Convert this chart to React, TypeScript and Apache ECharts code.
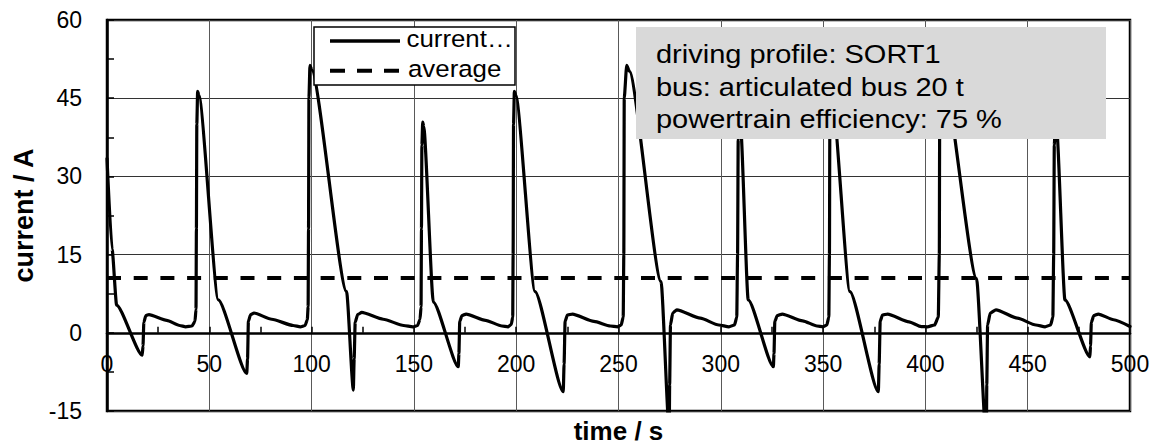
import React, { useEffect, useRef } from "react";
import * as echarts from "echarts";

const timeS: number[] = [
  0, 2.5, 4.7, 17.2, 17.6, 18.0, 19.0, 20.5, 29.2, 35.5, 38.5, 41.5, 43.0, 43.5, 43.7, 43.9, 44.3, 44.9, 54.4,
  68.3, 68.7, 69.1, 70.2, 71.8, 80.5, 91, 94.5, 96.8, 97.9, 98.3, 98.5, 98.7, 99.2, 100.0, 117.1,
  120.4, 120.8, 121.3, 122.5, 124.5, 135, 145, 149.5, 151.8, 153.0, 153.5, 153.7, 153.9, 154.3, 154.8, 159.5,
  171.7, 172.0, 172.4, 173.5, 175.5, 185, 193, 196, 197.6, 198.3, 198.5, 198.7, 199.1, 199.8, 209.2,
  223.0, 223.4, 223.9, 225, 227.5, 238, 246, 249.5, 251.3, 252.3, 252.6, 252.8, 254.0, 255.3, 270.8,
  274.8, 275.0, 275.4, 276.5, 278.5, 290, 299, 304, 306.7, 307.8, 308.2, 308.5, 309.0, 309.6, 313.4,
  325.7, 326.0, 326.4, 327.6, 330, 340, 347, 350, 351.8, 352.8, 353.1, 353.3, 353.7, 354.4, 363.1,
  377.0, 377.4, 377.9, 379, 381.5, 392, 398, 401, 404.5, 406.3, 406.8, 407.0, 407.5, 408.5, 425,
  429.8, 430.0, 430.4, 431.7, 434.5, 445, 454, 458.5, 461.2, 462.3, 462.7, 463.0, 463.5, 464.1, 468.2,
  480.4, 480.7, 481.1, 482.3, 484.5, 492, 500,
];
const currentA: number[] = [
  33.4, 16, 5.3, -4.3, -2.5, 2.0, 3.3, 3.5, 2.4, 1.4, 1.15, 1.3, 2.2, 4.5, 20, 40, 46.3, 45.6, 6.3,
  -7.8, -5, 2.2, 3.5, 3.8, 2.6, 1.4, 1.15, 1.4, 2.5, 5, 20, 45, 51.3, 50.5, 7.9,
  -11.0, -5, 2.0, 3.5, 3.9, 2.6, 1.4, 1.15, 1.4, 2.6, 5, 20, 36, 40.4, 39.6, 5.9,
  -6.5, -4, 2.2, 3.3, 3.6, 2.4, 1.3, 1.15, 1.6, 3, 15, 40, 46.3, 45.6, 7.9,
  -11.3, -6, 2.2, 3.4, 3.6, 2.2, 1.3, 1.15, 1.5, 3, 15, 45, 51.3, 50.2, 9.8,
  -19, -10, 1.5, 3.8, 4.4, 2.8, 1.5, 1.15, 1.5, 3, 15, 37, 41, 40.2, 6.3,
  -6.5, -4, 2.2, 3.3, 3.6, 2.3, 1.3, 1.15, 1.5, 3, 15, 40, 46, 45.4, 7.9,
  -11.3, -6, 2.2, 3.4, 3.6, 2.1, 1.2, 1.15, 1.5, 3, 15, 45, 51, 50.3, 10.4,
  -21, -10, 1.5, 3.8, 4.4, 2.8, 1.5, 1.15, 1.5, 3, 15, 36, 40.3, 39.5, 6.3,
  -4.6, -2.5, 2.0, 3.3, 3.6, 2.5, 1.2,
];
const averageA = 10.5;
const averageSpan: number[] = [0, 500];

const seriesNames: string[] = ["current…", "average"];
const infoLines: string[] = [
  "driving profile: SORT1",
  "bus: articulated bus 20 t",
  "powertrain efficiency: 75 %",
];
const xTitle = "time / s";
const yTitle = "current / A";

const FONT = "'Liberation Sans', Arial, Helvetica, sans-serif";

export default function App() {
  const ref = useRef<HTMLDivElement>(null);

  useEffect(() => {
    if (!ref.current) return;
    const chart = echarts.init(ref.current, undefined, { renderer: "svg" });

    const currentData = timeS.map((t, i) => [t, currentA[i]]);
    const averageData = averageSpan.map((t) => [t, averageA]);

    const legendText = (text: string, x: number, y: number) => ({
      type: "text",
      x,
      y,
      scaleX: 1.1,
      z: 101,
      style: {
        text,
        fontSize: 23.5,
        fontFamily: FONT,
        fill: "#000",
        align: "left",
        verticalAlign: "middle",
      },
    });

    const infoText = (text: string, y: number) => ({
      type: "text",
      x: 656,
      y,
      scaleX: 1.16,
      z: 101,
      style: {
        text,
        fontSize: 25,
        fontFamily: FONT,
        fill: "#000",
        align: "left",
        verticalAlign: "middle",
      },
    });

    chart.setOption({
      animation: false,
      backgroundColor: "#fff",
      grid: {
        left: 107,
        top: 20,
        width: 1023,
        height: 391,
        outerBoundsMode: "none",
        containLabel: false,
        show: true,
        borderColor: "#000",
        borderWidth: 2.5,
        backgroundColor: "transparent",
      },
      xAxis: {
        type: "value",
        min: 0,
        max: 500,
        interval: 50,
        name: xTitle,
        nameLocation: "middle",
        nameGap: 20,
        nameTextStyle: {
          fontSize: 26,
          lineHeight: 26,
          fontWeight: "bold",
          fontFamily: FONT,
          color: "#000",
          verticalAlign: "middle",
        },
        axisLine: { show: true, onZero: true, lineStyle: { color: "#000", width: 2.5 } },
        axisTick: { show: true, inside: true, length: 6, lineStyle: { color: "#000", width: 1.5 } },
        minorTick: { show: true, splitNumber: 2, length: 6, lineStyle: { color: "#000", width: 1.5 } },
        splitLine: { show: true, lineStyle: { color: "#595959", width: 1 } },
        axisLabel: { fontSize: 23, fontFamily: FONT, color: "#000", margin: -59 },
      },
      yAxis: {
        type: "value",
        min: -15,
        max: 60,
        interval: 15,
        name: yTitle,
        nameLocation: "middle",
        nameRotate: 90,
        nameGap: 82,
        nameTextStyle: {
          fontSize: 27,
          fontWeight: "bold",
          fontFamily: FONT,
          color: "#000",
          verticalAlign: "middle",
        },
        axisLine: { show: true, lineStyle: { color: "#000", width: 2.5 } },
        axisTick: { show: true, inside: true, length: 7, lineStyle: { color: "#000", width: 1.5 } },
        minorTick: { show: true, splitNumber: 2, length: 7, lineStyle: { color: "#000", width: 1.5 } },
        splitLine: { show: true, lineStyle: { color: "#333", width: 1 } },
        axisLabel: { fontSize: 23, fontFamily: FONT, color: "#000", margin: 25 },
      },
      series: [
        {
          name: seriesNames[0],
          type: "line",
          data: currentData,
          showSymbol: false,
          symbol: "none",
          smooth: 0.2,
          smoothMonotone: "x",
          clip: true,
          lineStyle: { color: "#000", width: 3.2, join: "round", cap: "round" },
          z: 3,
        },
        {
          name: seriesNames[1],
          type: "line",
          data: averageData,
          showSymbol: false,
          symbol: "none",
          lineStyle: { color: "#000", width: 4, type: [14, 12.7], cap: "butt" },
          z: 2,
        },
      ],
      graphic: [
        {
          type: "rect",
          z: 100,
          shape: { x: 314, y: 27, width: 201, height: 58 },
          style: { fill: "#fff", stroke: "#000", lineWidth: 1.5 },
        },
        {
          type: "line",
          z: 101,
          shape: { x1: 330, y1: 41, x2: 400, y2: 41 },
          style: { stroke: "#000", lineWidth: 3.5 },
        },
        {
          type: "line",
          z: 101,
          shape: { x1: 330, y1: 70.7, x2: 400, y2: 70.7 },
          style: { stroke: "#000", lineWidth: 4, lineDash: [15, 12] },
        },
        legendText(seriesNames[0], 406.5, 39),
        legendText(seriesNames[1], 408, 68.5),
        {
          type: "rect",
          z: 100,
          shape: { x: 636, y: 27, width: 470, height: 112 },
          style: { fill: "#d9d9d9", stroke: "none" },
        },
        infoText(infoLines[0], 54.5),
        infoText(infoLines[1], 87),
        infoText(infoLines[2], 119.5),
      ],
    });

    return () => chart.dispose();
  }, []);

  return (
    <div
      ref={ref}
      style={{ position: "absolute", left: 0, top: 0, width: 1158, height: 446 }}
    />
  );
}
